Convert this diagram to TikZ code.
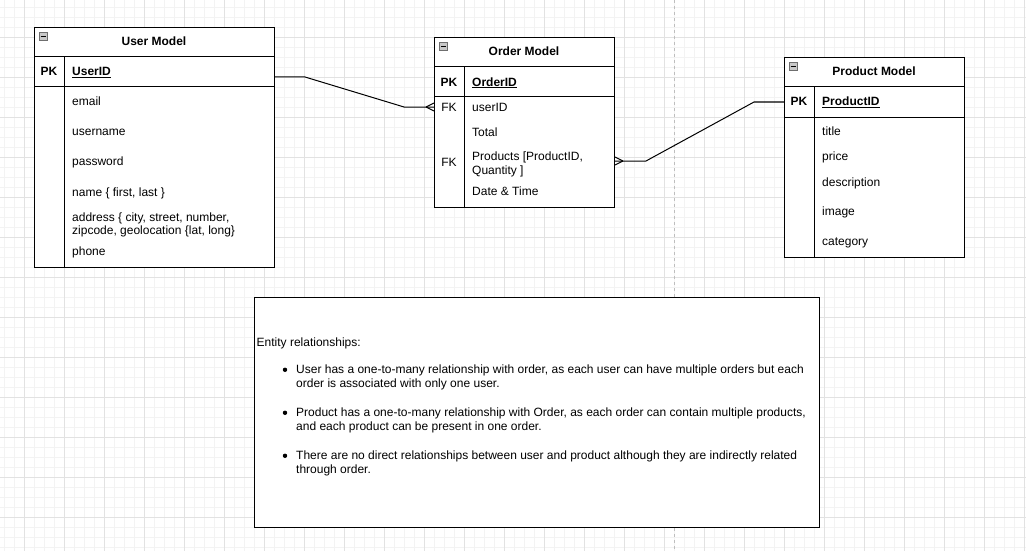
\documentclass[tikz,border=0pt]{standalone}
\usepackage{fontspec}
\setmainfont{Liberation Sans}
\definecolor{gmajor}{RGB}{226,226,226}
\definecolor{gminor}{RGB}{243,243,243}
\definecolor{pagebrk}{RGB}{190,190,190}
\definecolor{iconfill}{RGB}{200,200,200}
\definecolor{iconline}{RGB}{110,110,110}
\tikzset{
  minorgrid/.style={draw=gminor, line width=0.8pt},
  majorgrid/.style={draw=gmajor, line width=0.8pt},
  pagebreak/.style={draw=pagebrk, line width=1pt, dash pattern=on 3pt off 3pt},
  tbl/.style={draw=black, line width=1pt, fill=white, anchor=north west, inner sep=0pt},
  sep/.style={draw=black, line width=1pt},
  hdr/.style={font=\fontsize{12}{14}\selectfont\bfseries, anchor=base, inner sep=0pt},
  keytxt/.style={font=\fontsize{12}{14}\selectfont\bfseries, anchor=base, inner sep=0pt},
  fktxt/.style={font=\fontsize{12}{14}\selectfont, anchor=base, inner sep=0pt},
  fld/.style={font=\fontsize{12}{14}\selectfont, anchor=base west, inner sep=0pt},
  icon/.style={draw=iconline, fill=iconfill, line width=0.8pt, minimum size=8pt, inner sep=0pt},
  conn/.style={draw=black, line width=1pt},
  notebox/.style={draw=black, line width=1pt, fill=white, anchor=north west, inner sep=0pt},
  notetxt/.style={font=\fontsize{12}{14}\selectfont, anchor=base west, inner sep=0pt},
  dot/.style={circle, fill=black, minimum size=4.4pt, inner sep=0pt}
}
\begin{document}
\begin{tikzpicture}[x=1pt,y=-1pt]
\useasboundingbox (0,0) rectangle (1026,551);
\fill[white] (0,0) rectangle (1026,551);
% grid
\foreach \x in {4,14,...,1024} \draw[minorgrid] (\x,0) -- (\x,551);
\foreach \y in {7,17,...,547} \draw[minorgrid] (0,\y) -- (1026,\y);
\foreach \x in {24,64,...,1024} \draw[majorgrid] (\x,0) -- (\x,551);
\foreach \y in {37,77,...,517} \draw[majorgrid] (0,\y) -- (1026,\y);
\draw[pagebreak] (674,0) -- (674,551);

% ---------- User Model ----------
\node[tbl, minimum width=240pt, minimum height=240pt] (user) at (34,27) {};
\draw[sep] ([yshift=-30pt]user.north west) -- ([yshift=-30pt]user.north east);
\draw[sep] ([yshift=-60pt]user.north west) -- ([yshift=-60pt]user.north east);
\draw[sep] ([xshift=30pt,yshift=-30pt]user.north west) -- ([xshift=30pt]user.south west);
\node[icon] (uicon) at (43.3,36) {};
\draw[black, line width=0.9pt] ([xshift=1.8pt]uicon.west) -- ([xshift=-1.8pt]uicon.east);
\node[hdr] (uhdr) at (154,46) {User Model};
\node[keytxt] (upk) at (49,76) {PK};
\node[fld, font=\fontsize{12}{14}\selectfont\bfseries] (uid) at (72,76) {\underline{UserID}};
\node[fld] (u1) at (72,106) {email};
\node[fld] (u2) at (72,135.5) {username};
\node[fld] (u3) at (72,165.5) {password};
\node[fld] (u4) at (72,196) {name \{ first, last \}};
\node[fld] (u5) at (72,221) {address \{ city, street, number,};
\node[fld] (u5b) at (72,234.5) {zipcode, geolocation \{lat, long\}};
\node[fld] (u6) at (72,255.5) {phone};

% ---------- Order Model ----------
\node[tbl, minimum width=180pt, minimum height=170pt] (order) at (434,37) {};
\draw[sep] ([yshift=-30pt]order.north west) -- ([yshift=-30pt]order.north east);
\draw[sep] ([yshift=-60pt]order.north west) -- ([yshift=-60pt]order.north east);
\draw[sep] ([xshift=30pt,yshift=-30pt]order.north west) -- ([xshift=30pt]order.south west);
\node[icon] (oicon) at (443.7,46) {};
\draw[black, line width=0.9pt] ([xshift=1.8pt]oicon.west) -- ([xshift=-1.8pt]oicon.east);
\node[hdr] (ohdr) at (524,56) {Order Model};
\node[keytxt] (opk) at (449,86) {PK};
\node[fld, font=\fontsize{12}{14}\selectfont\bfseries] (oid) at (472,86) {\underline{OrderID}};
\node[fktxt] (ofk1) at (449,111) {FK};
\node[fld] (o1) at (472,111) {userID};
\node[fld] (o2) at (472,136) {Total};
\node[fktxt] (ofk2) at (449,166) {FK};
\node[fld] (o3) at (472,160.7) {Products [ProductID,};
\node[fld] (o3b) at (472,174.3) {Quantity ]};
\node[fld] (o4) at (472,195.7) {Date \& Time};

% ---------- Product Model ----------
\node[tbl, minimum width=180pt, minimum height=200pt] (product) at (784,57) {};
\draw[sep] ([yshift=-30pt]product.north west) -- ([yshift=-30pt]product.north east);
\draw[sep] ([yshift=-60pt]product.north west) -- ([yshift=-60pt]product.north east);
\draw[sep] ([xshift=30pt,yshift=-30pt]product.north west) -- ([xshift=30pt]product.south west);
\node[icon] (picon) at (793.3,66) {};
\draw[black, line width=0.9pt] ([xshift=1.8pt]picon.west) -- ([xshift=-1.8pt]picon.east);
\node[hdr] (phdr) at (874,76) {Product Model};
\node[keytxt] (ppk) at (799,106) {PK};
\node[fld, font=\fontsize{12}{14}\selectfont\bfseries] (pid) at (822,106) {\underline{ProductID}};
\node[fld] (p1) at (822,135.7) {title};
\node[fld] (p2) at (822,160.5) {price};
\node[fld] (p3) at (822,186) {description};
\node[fld] (p4) at (822,215.7) {image};
\node[fld] (p5) at (822,245.7) {category};

% ---------- connectors ----------
\draw[conn] ([yshift=-50pt]user.north east) -- ++(30,0)
  -- ([xshift=-30pt,yshift=-70pt]order.north west) -- ([yshift=-70pt]order.north west);
\draw[conn] ([xshift=-8pt,yshift=-70pt]order.north west) -- ([yshift=-66pt]order.north west);
\draw[conn] ([xshift=-8pt,yshift=-70pt]order.north west) -- ([yshift=-74pt]order.north west);

\draw[conn] ([yshift=-124pt]order.north east) -- ++(31,0)
  -- ([xshift=-30pt,yshift=-45pt]product.north west) -- ([yshift=-45pt]product.north west);
\draw[conn] ([xshift=8pt,yshift=-124pt]order.north east) -- ([yshift=-120pt]order.north east);
\draw[conn] ([xshift=8pt,yshift=-124pt]order.north east) -- ([yshift=-128pt]order.north east);

% ---------- note ----------
\node[notebox, minimum width=565pt, minimum height=230pt] (note) at (254,297) {};
\node[notetxt] (nh) at (256.5,346.5) {Entity relationships:};
\node[dot] (b1) at (285,369.8) {};
\node[notetxt] (n1a) at (296,373) {User has a one-to-many relationship with order, as each user can have multiple orders but each};
\node[notetxt] (n1b) at (296,387.5) {order is associated with only one user.};
\node[dot] (b2) at (285,412.8) {};
\node[notetxt] (n2a) at (296,416) {Product has a one-to-many relationship with Order, as each order can contain multiple products,};
\node[notetxt] (n2b) at (296,430.5) {and each product can be present in one order.};
\node[dot] (b3) at (285,455.8) {};
\node[notetxt] (n3a) at (296,459) {There are no direct relationships between user and product although they are indirectly related};
\node[notetxt] (n3b) at (296,473.5) {through order.};
\end{tikzpicture}
\end{document}
